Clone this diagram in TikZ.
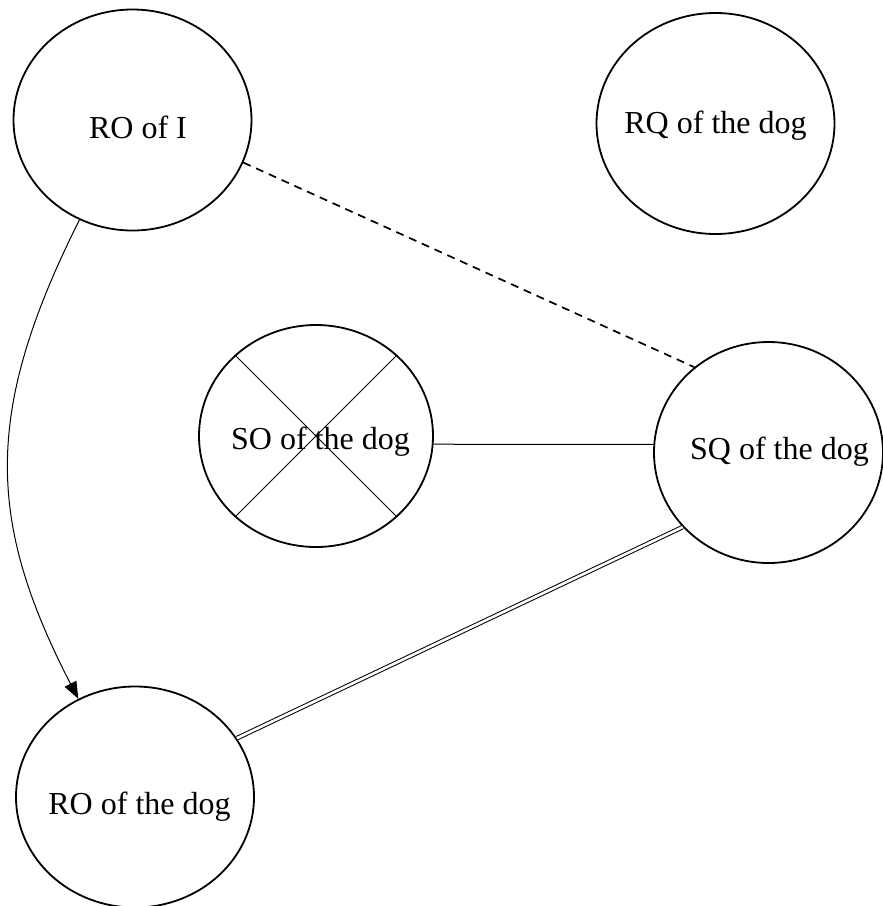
\documentclass[tikz,border=0pt]{standalone}
\usepackage{fontspec}
\setmainfont{Liberation Serif}
\usetikzlibrary{shapes.geometric,arrows.meta}
\begin{document}
\begin{tikzpicture}[x=1pt,y=-1pt,
  oval/.style={draw, ellipse, line width=1.8pt, inner sep=0pt, minimum width=238pt, minimum height=221pt},
  lbl/.style={anchor=base, inner sep=0pt, font=\fontsize{32}{38}\selectfont},
  thin/.style={line width=1pt},
  dashlink/.style={line width=1.7pt, dash pattern=on 8pt off 6pt},
  dbl/.style={double, line width=1pt, double distance=2.6pt}]
\useasboundingbox[fill=white] (0,0) rectangle (883,906);
% ellipses
\node[oval] (roi) at (132.5,120) {};
\node[oval] (rq)  at (715.5,123.5) {};
\node[oval, minimum width=234pt, minimum height=222pt] (so)  at (316,436) {};
\node[oval, minimum width=229pt] (sq)  at (768.5,452.5) {};
\node[oval] (rod) at (135,797) {};
% labels
\node[lbl] (roit) at (138,138) {RO of I};
\node[lbl] (rqt)  at (715.5,133.3) {RQ of the dog};
\node[lbl] (sot)  at (320.5,449) {SO of the dog};
\node[lbl] (sqt)  at (779.5,459) {SQ of the dog};
\node[lbl] (rodt) at (139.5,814) {RO of the dog};
% cross in SO
\draw[thin] (so.45) -- (so.225);
\draw[thin] (so.135) -- (so.-45);
% connectors
\draw[dashlink] (roi.-21.4) -- (sq.131.8);
\draw[thin] (so.-4) -- (sq.176);
\draw[dbl] (rod.30.5) -- (sq.221.7);
\draw[thin, -{Triangle[length=17pt,width=13pt]}] (roi.242.3) .. controls +(-95.5,191) and +(-92.5,-179) .. (rod.120.9);
\end{tikzpicture}
\end{document}
